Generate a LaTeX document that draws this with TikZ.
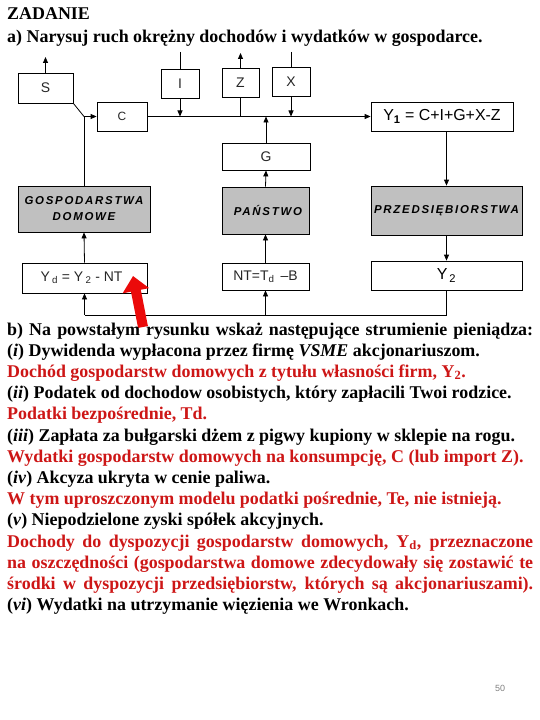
\documentclass[tikz,border=0pt]{standalone}
\usepackage{fontspec}
\setmainfont{Liberation Serif}
\setsansfont{Liberation Sans}
\newfontfamily\boxfont[LetterSpace=15]{Liberation Sans}
\usetikzlibrary{arrows.meta,positioning}

\definecolor{answertext}{RGB}{205,22,22}
\definecolor{pointerred}{RGB}{235,10,10}
\definecolor{sectorgray}{RGB}{192,192,192}

\tikzset{
  box/.style={draw, line width=0.8bp, inner sep=0pt, text=black!85, font=\fontsize{14}{16}\sffamily},
  sector/.style={box, text=black, fill=sectorgray, align=center, font=\fontsize{11.5}{16}\boxfont\bfseries\itshape},
  flow/.style={line width=0.8bp, -{Triangle[length=6bp,width=5bp]}},
  txtline/.style={anchor=base west, inner sep=0pt, font=\fontsize{18}{21}\selectfont\bfseries},
  answer/.style={txtline, text=answertext},
  pointer/.style={draw=pointerred, line width=10bp, -{Triangle[length=15bp,width=26bp]}}
}

\begin{document}
\begin{tikzpicture}[x=1bp, y=-1bp]
\useasboundingbox (0,0) rectangle (540,720);

% -------- task text -----------
\node[txtline] (t0) at (7,20) {ZADANIE};
\node[txtline] (t1) at (7,43) {a) Narysuj ruch okrężny dochodów i wydatków w gospodarce.};

% -------- boxes -----------
\node[box, minimum width=55bp, minimum height=30bp] (S) at (45.5,88) {S};
\node[box, minimum width=38bp, minimum height=29bp] (I) at (180,83.5) {I};
\node[box, minimum width=37bp, minimum height=29bp] (Z) at (240.5,82.5) {Z};
\node[box, minimum width=38bp, minimum height=29bp] (X) at (291,81.5) {X};
\node[box, minimum width=50bp, minimum height=29bp, font=\fontsize{12}{14}\sffamily] (C) at (122,116.5) {C};
\node[box, text=black, minimum width=142bp, minimum height=29bp, font=\fontsize{16}{18}\sffamily] (Y1) at (442,116.5) {Y\textsubscript{\textbf{1}} = C+I+G+X-Z};
\node[box, minimum width=88bp, minimum height=27bp] (G) at (266,156.5) {G};

\node[sector, minimum width=132bp, minimum height=46bp] (GOSP) at (84,209) {GOSPODARSTWA\\DOMOWE};
\node[sector, minimum width=87bp, minimum height=47bp] (PAN) at (265.5,210.5) {\ PAŃSTWO};
\node[sector, minimum width=151bp, minimum height=49bp] (PRZ) at (446.5,210.5) {PRZEDSIĘBIORSTWA};

\node[box, minimum width=125bp, minimum height=30bp] (Yd) at (84.5,278) {\hspace{-6bp}Y\,\textsubscript{d} = Y\,\textsubscript{2} - NT};
\node[box, minimum width=87bp, minimum height=27bp] (NT) at (265.5,276.5) {NT=T\textsubscript{d} \,--B};
\node[box, text=black, minimum width=151bp, minimum height=29bp, font=\fontsize{16}{18}\sffamily] (Y2) at (446.5,275.5) {Y\textsubscript{\,2}};

% -------- connectors -----------
\coordinate (jl) at (GOSP.north |- C.west);
\draw[line width=0.8bp] (S.south east) -- (jl);
\draw[line width=0.8bp] (GOSP.north) -- (jl);
\draw[flow] (jl) -- (C.west);
\draw[flow] (C.east) -- (Y1.west);
\draw[flow] (I.south) -- (I.south |- C.east);
\draw[line width=0.8bp] (Z.south) -- (Z.south |- C.east);
\draw[flow] (X.south) -- (X.south |- C.east);
\draw[flow] (G.north) -- (G.north |- C.east);

\coordinate (Itop) at (I.north |- 0,52);
\coordinate (Xtop) at (X.north |- 0,52);
\coordinate (Sout) at (S.north |- 0,57);
\coordinate (Zout) at (Z.north |- 0,53);
\draw[line width=0.8bp] (Itop) -- (I.north);
\draw[line width=0.8bp] (Xtop) -- (X.north);
\draw[flow] (S.north) -- (Sout);
\draw[flow] (Z.north) -- (Zout);

\draw[flow] (PRZ.north |- Y1.south) -- (PRZ.north);
\draw[flow] (PRZ.south) -- (Y2.north);
\coordinate (br) at (Y2.south |- 0,315);
\coordinate (bl) at (Yd.south |- 0,315);
\draw[line width=0.8bp] (Y2.south) -- (br) -- (bl);
\draw[flow] (bl) -- (Yd.south);
\draw[flow] (NT.south |- br) -- (NT.south);
\draw[flow] (NT.north) -- (PAN.south);
\draw[flow] (PAN.north) -- (G.south);
\draw[flow] (Yd.north) -- (GOSP.south);

% -------- red pointer -----------
\coordinate (ptail) at (143,327);
\coordinate (phead) at (133,276);
\draw[pointer] (ptail) -- (phead);

% -------- part b -----------
\node[txtline] (t2) at (7,335) {\makebox[526bp][s]{b) Na powstałym rysunku wskaż następujące strumienie pieniądza:}};
\node[txtline] (t3) at (7,356.2) {(\textit{i}) Dywidenda wypłacona przez firmę \textit{VSME} akcjonariuszom.};
\node[answer] (t4) at (7,377.4) {Dochód gospodarstw domowych z tytułu własności firm, Y\textsubscript{2}.};
\node[txtline] (t5) at (7,398.6) {(\textit{ii}) Podatek od dochodow osobistych, który zapłacili Twoi rodzice.};
\node[answer] (t6) at (7,419.8) {Podatki bezpośrednie, Td.};
\node[txtline] (t7) at (7,441) {(\textit{iii}) Zapłata za bułgarski dżem z pigwy kupiony w sklepie na rogu.};
\node[answer] (t8) at (7,462.2) {Wydatki gospodarstw domowych na konsumpcję, C (lub import Z).};
\node[txtline] (t9) at (7,483.4) {(\textit{iv}) Akcyza ukryta w cenie paliwa.};
\node[answer] (t10) at (7,504.6) {W tym uproszczonym modelu podatki pośrednie, Te, nie istnieją.};
\node[txtline] (t11) at (7,525.8) {(\textit{v}) Niepodzielone zyski spółek akcyjnych.};
\node[answer] (t12) at (7,547) {\makebox[526bp][s]{Dochody do dyspozycji gospodarstw domowych, Y\textsubscript{d}, przeznaczone}};
\node[answer] (t13) at (7,568.2) {\makebox[526bp][s]{na oszczędności (gospodarstwa domowe zdecydowały się zostawić te}};
\node[answer] (t14) at (7,589.4) {\makebox[526bp][s]{środki w dyspozycji przedsiębiorstw, których są akcjonariuszami).}};
\node[txtline] (t15) at (7,610.6) {(\textit{vi}) Wydatki na utrzymanie więzienia we Wronkach.};

\node[font=\fontsize{9}{11}\sffamily, text=gray] (pg) at (500,688) {50};
\end{tikzpicture}
\end{document}
